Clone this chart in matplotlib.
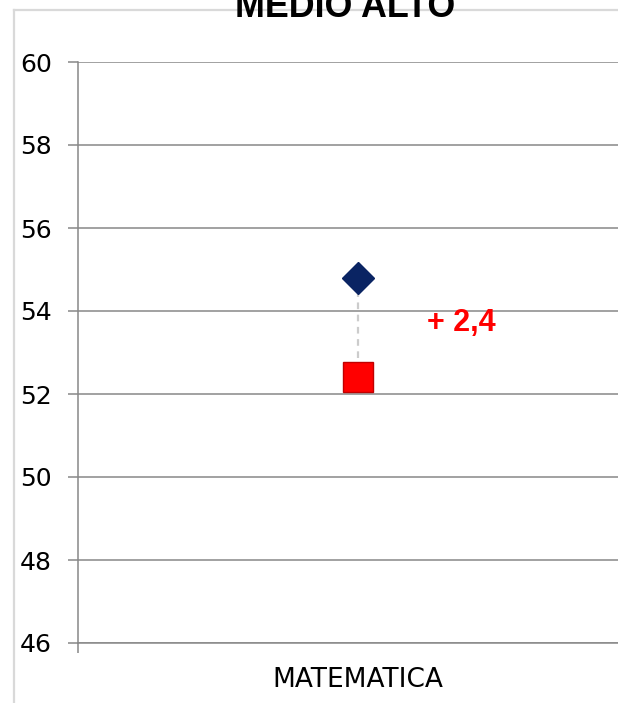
import matplotlib.pyplot as plt
from matplotlib.lines import Line2D

categories = ["MATEMATICA"]
score_current = [54.8]   # navy diamond
score_previous = [52.4]  # red square
y_ticks = [46, 48, 50, 52, 54, 56, 58, 60]
title = "MEDIO ALTO"


def main():
    fig = plt.figure(figsize=(6.18, 7.03), dpi=100)
    ax = fig.add_axes([78 / 618, 60 / 703, 560 / 618, 581 / 703])

    grey = "#888888"
    xs = list(range(len(categories)))

    # dotted connector between the two markers
    for x, a, b in zip(xs, score_current, score_previous):
        ax.plot([x, x], [a, b], color="#cccccc", lw=1.6, ls=(0, (3, 2.5)), zorder=2)

    ax.plot(xs, score_current, ls="none", marker="D", ms=16, color="#0a2463",
            mec="#0a2463", zorder=4)
    ax.plot(xs, score_previous, ls="none", marker="s", ms=21, color="#ff0000",
            mec="#c00000", mew=1.0, zorder=4)

    for x, a, b in zip(xs, score_current, score_previous):
        diff = a - b
        label = ("+ " if diff >= 0 else "- ") + f"{abs(diff):.1f}".replace(".", ",")
        ax.annotate(label, xy=(x, (a + b) / 2), xytext=(50, 3), textcoords="offset points",
                    ha="left", va="center", color="#ff0000", fontsize=22,
                    fontweight="bold", family="Liberation Sans")

    ax.set_xlim(-0.5, len(categories) - 0.5)
    ax.set_ylim(min(y_ticks), max(y_ticks))
    ax.set_yticks(y_ticks)
    ax.set_xticks(xs)
    ax.set_xticklabels(categories)
    ax.set_xticks([x - 0.5 for x in xs] + [xs[-1] + 0.5], minor=True)

    ax.grid(axis="y", color=grey, lw=1.1)
    ax.set_axisbelow(True)
    for side in ("top", "right"):
        ax.spines[side].set_visible(False)
    for side in ("left", "bottom"):
        ax.spines[side].set_color(grey)
        ax.spines[side].set_linewidth(1.1)

    ax.tick_params(axis="y", direction="out", length=7.2, width=1.1, color=grey,
                   pad=11.5, labelsize=18, labelcolor="#000000")
    ax.tick_params(axis="x", which="major", length=0, pad=17, labelsize=19)
    ax.tick_params(axis="x", which="minor", direction="out", length=7.2, width=1.1,
                   color=grey)

    # outer chart border (only left and top visible in the crop)
    fig.add_artist(Line2D([14 / 618, 14 / 618], [0, 1 - 10 / 703], color="#d9d9d9", lw=1.6))
    fig.add_artist(Line2D([14 / 618, 1], [1 - 10 / 703, 1 - 10 / 703], color="#d9d9d9", lw=1.6))

    fig.text(345 / 618, 1 - 17 / 703, title, ha="center", va="baseline", fontsize=25.8,
             fontweight="bold", family="Liberation Sans", zorder=5)

    fig.savefig("out.png", dpi=100)


if __name__ == "__main__":
    main()
